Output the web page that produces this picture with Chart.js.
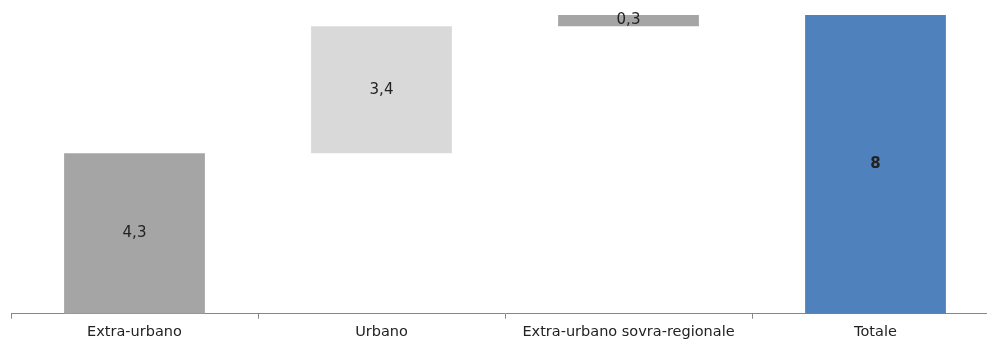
<!DOCTYPE html>
<html>
<head>
<meta charset="utf-8">
<script src="https://cdn.jsdelivr.net/npm/chart.js@4"></script>
<style>
  html, body { margin: 0; padding: 0; background: #fff; overflow: hidden; }
  #wrap { width: 1000px; height: 342px; }
</style>
</head>
<body>
<div id="wrap"><canvas id="waterfall" width="1000" height="342"></canvas></div>
<script>
// ----------------------------------------------------
// Data
// ----------------------------------------------------
const categories = ['Extra-urbano', 'Urbano', 'Extra-urbano sovra-regionale', 'Totale'];
const steps = [4.3, 3.4, 0.3];          // increments
const totalValue = 8;                     // final total bar
const valueLabels = ['4,3', '3,4', '0,3', '8'];
const barColors = ['#a5a5a5', '#d9d9d9', '#a5a5a5', '#4f81bd'];

// build floating ranges for the waterfall
const ranges = [];
let running = 0;
steps.forEach(function(v) {
    ranges.push([running, running + v]);
    running += v;
});
ranges.push([0, totalValue]);

// draws the value in the middle of each bar
const centerLabels = {
    id: 'centerLabels',
    afterDatasetsDraw: function(chart) {
        const ctx = chart.ctx;
        const meta = chart.getDatasetMeta(0);
        ctx.save();
        ctx.textAlign = 'center';
        ctx.textBaseline = 'middle';
        ctx.fillStyle = '#222';
        meta.data.forEach(function(bar, i) {
            const isTotal = i === meta.data.length - 1;
            ctx.font = (isTotal ? 'bold ' : '') + '15px "DejaVu Sans", sans-serif';
            const yMid = (bar.y + bar.base) / 2;
            ctx.fillText(valueLabels[i], bar.x, yMid);
        });
        ctx.restore();
    }
};

new Chart(document.getElementById('waterfall'), {
    type: 'bar',
    data: {
        labels: categories,
        datasets: [{
            data: ranges,
            backgroundColor: barColors,
            borderWidth: 0,
            borderSkipped: false,
            barPercentage: 0.57,
            categoryPercentage: 1.0
        }]
    },
    options: {
        responsive: false,
        animation: false,
        layout: {
            padding: { left: 11, right: 1, top: 15, bottom: -3 }
        },
        plugins: {
            legend: { display: false },
            tooltip: { enabled: false }
        },
        scales: {
            x: {
                offset: true,
                border: { display: true, color: '#868686', width: 1 },
                grid: {
                    offset: true,
                    drawOnChartArea: false,
                    drawTicks: true,
                    tickLength: 5,
                    color: '#868686'
                },
                ticks: {
                    color: '#222',
                    padding: 7,
                    maxRotation: 0,
                    autoSkip: false,
                    font: { family: '"DejaVu Sans", sans-serif', size: 14.5, lineHeight: 0.85 }
                }
            },
            y: {
                display: false,
                min: 0,
                max: 8
            }
        }
    },
    plugins: [centerLabels]
});
</script>
</body>
</html>
